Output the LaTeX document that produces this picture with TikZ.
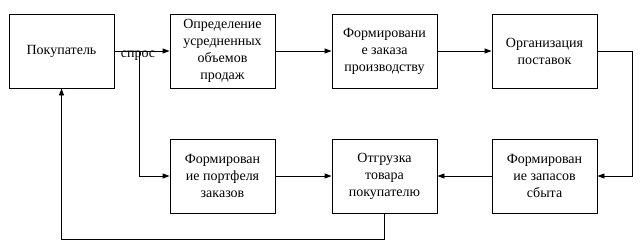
\documentclass[tikz,border=0pt]{standalone}
\usepackage{fontspec}
\setmainfont{LiberationSerif}[Extension=.ttf, UprightFont=*-Regular, BoldFont=*-Bold]
\usetikzlibrary{arrows.meta,positioning}

\begin{document}
\begin{tikzpicture}[x=1pt, y=-1pt,
  blk/.style={rectangle, draw, line width=0.9pt, minimum width=105pt,
              minimum height=74pt, inner sep=2pt, align=center,
              font=\fontsize{14}{17}\selectfont},
  arr/.style={-{Triangle[length=7pt, width=5pt]}, line width=0.9pt}
]
\useasboundingbox (0,0) rectangle (640,247);

% ── Top row ───────────────────────────
\node[blk] (buyer)  at (61.5,51)  {Покупатель};
\node[blk] (avg)    at (222.5,51) {Определение\\усредненных\\объемов\\продаж};
\node[blk] (order)  at (384.5,51) {Формировани\\е заказа\\производству};
\node[blk] (supply) at (544.5,51) {Организация\\поставок};

% ── Bottom row ────────────────────────
\node[blk] (portf) at (222.5,176) {Формирован\\ие портфеля\\заказов};
\node[blk] (ship)  at (384.5,176) {Отгрузка\\товара\\покупателю};
\node[blk] (stock) at (544.5,176) {Формирован\\ие запасов\\сбыта};

\node[font=\fontsize{14}{17}\selectfont, inner sep=0pt, anchor=base]
  (spros) at (138,57) {спрос};

\coordinate (fork) at (139,51);
\coordinate (rt)   at (632,51);

% ── Arrows ────────────────────────────
\draw[arr] (buyer) -- (avg);
\draw[arr] (avg) -- (order);
\draw[arr] (order) -- (supply);
\draw[arr] (fork) |- (portf);
\draw[arr] (portf) -- (ship);
\draw[arr] (supply) -- (rt) |- (stock);
\draw[arr] (stock) -- (ship);
\draw[arr] (ship.south) -- ++(0,26) -| (buyer.south);

\end{tikzpicture}
\end{document}
